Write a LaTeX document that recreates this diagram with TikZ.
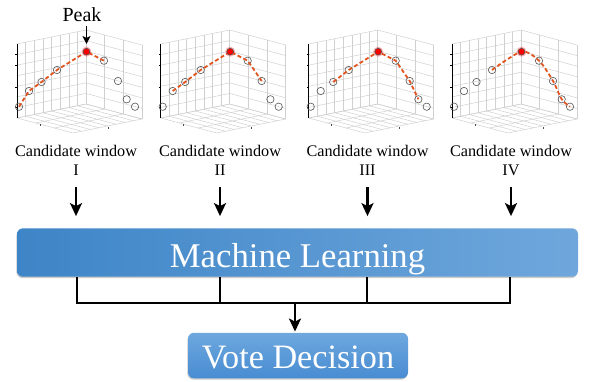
\documentclass[tikz,border=0pt]{standalone}
\usepackage{fontspec}
\setmainfont{Liberation Serif}
\usetikzlibrary{arrows.meta,shadows,calc}

\definecolor{gridc}{RGB}{208,208,208}
\definecolor{dashc}{RGB}{226,84,30}
\definecolor{ptc}{RGB}{85,85,85}
\definecolor{mlL}{RGB}{62,133,199}
\definecolor{mlR}{RGB}{111,167,220}
\definecolor{vtT}{RGB}{110,168,222}
\definecolor{vtB}{RGB}{72,140,210}

\tikzset{
  gridline/.style={gridc, line width=0.5pt},
  datapt/.style={ptc, line width=0.6pt},
  trend/.style={dashc, line width=1.8pt, dash pattern=on 4pt off 2.5pt},
  cwtext/.style={font=\fontsize{16.2}{19}\selectfont, inner sep=0pt, anchor=base},
  bigarrow/.style={line width=2.2pt, -{Stealth[length=13pt,width=12pt,inset=3pt]}},
  peakarrow/.style={line width=1.2pt, -{Stealth[length=8pt,width=8pt,inset=2pt]}},
  joinline/.style={line width=2.4pt},
  softshadow/.style={drop shadow={shadow xshift=-0.6pt, shadow yshift=-1.4pt, fill=black!45, opacity=0.45}},
  mlbox/.style={rounded corners=6pt, left color=mlL, right color=mlR, text=white,
    font=\fontsize{34.7}{40}\selectfont, minimum width=561pt, minimum height=48.4pt,
    inner sep=0pt, text height=29.4pt, text depth=0pt, softshadow},
  votebox/.style={rounded corners=6pt, top color=vtT, bottom color=vtB, text=white,
    font=\fontsize{34.2}{40}\selectfont, minimum width=220pt, minimum height=45.5pt,
    inner sep=0pt, text height=25.6pt, text depth=0pt, softshadow},
}

\newcommand{\plotwin}[2]{%
  \begin{scope}[xshift=#1pt]
    % left wall
    \foreach \i in {0,...,8} \draw[gridline] ({17+\i*69/8},{118-\i*14/8}) -- ++(0,-74);
    \foreach \j in {0,...,7} \draw[gridline] (17,{118-\j*74/7}) -- ++(69,-14);
    % right wall
    \foreach \i in {0,...,3} \draw[gridline] ({86+\i*56/3},{104+\i*15/3}) -- ++(0,-74);
    \foreach \j in {0,...,7} \draw[gridline] (86,{104-\j*74/7}) -- ++(56,15);
    % floor
    \foreach \i in {0,...,3} \draw[gridline] ({17+\i*56/3},{118+\i*15/3}) -- ++(69,-14);
    \foreach \i in {0,...,8} \draw[gridline] ({17+\i*69/8},{118-\i*14/8}) -- ++(56,15);
    % axis
    \draw[black, line width=0.8pt] (17,44) -- (17,118);
    \foreach \t in {54,65,87,107} \draw[black, line width=0.6pt] (17,\t) -- ++(-2.2,0);
    \draw[black!70, line width=0.6pt] (40,124) -- ++(0,2);
    \draw[black!70, line width=0.6pt] (108,127) -- ++(0,2);
    % data points
    \foreach \p in {(19,106.7),(29,91),(41.5,82),(57,70),(104,60.7),(118,81),(126.7,99.3),(135,106.7)}
      \draw[datapt] \p circle[radius=3.7];
    #2
    % peak
    \fill[red, opacity=0.3] (86.5,51.7) circle[radius=5];
    \draw[datapt, fill=red] (86.5,51.7) circle[radius=3.4];
  \end{scope}}

\begin{document}
\begin{tikzpicture}[x=1pt,y=-1pt]
\useasboundingbox (0,0) rectangle (589,381);

\plotwin{0}{\draw[trend] (19,106.7) -- (29,91) -- (41.5,82) -- (57,70) -- (86.5,51.7) -- (104,60.7);}
\plotwin{143.7}{\draw[trend] (29,91) -- (41.5,82) -- (57,70) -- (86.5,51.7) -- (104,60.7) -- (118,81);}
\plotwin{291.7}{\draw[trend] (41.5,82) -- (57,70) -- (86.5,51.7) -- (104,60.7) -- (118,81) -- (126.7,99.3);}
\plotwin{435}{\draw[trend] plot[smooth, tension=0.5] coordinates {(57,70) (86.5,51.7) (104,60.7) (118,81) (126.7,99.3) (135,106.7)};}

% Peak label
\node[font=\fontsize{20}{24}\selectfont, inner sep=0pt, anchor=base] (peak) at (82,21) {Peak};
\coordinate (pk) at (86.5,44);
\draw[peakarrow, shorten <=5pt] (peak.south -| pk) -- (pk);

% Machine learning box
\node[mlbox] (ml) at (297.5,252.5) {Machine Learning};

% candidate windows
\node[cwtext] (cw1) at (76,156) {Candidate window};
\node[cwtext] (n1) at (76,175) {I};
\node[cwtext] (cw2) at (220,156) {Candidate window};
\node[cwtext] (n2) at (220,175) {II};
\node[cwtext] (cw3) at (367.5,156) {Candidate window};
\node[cwtext] (n3) at (367.5,175) {III};
\node[cwtext] (cw4) at (511,156) {Candidate window};
\node[cwtext] (n4) at (511,175) {IV};

\foreach \k in {1,...,4}
  \draw[bigarrow, shorten <=12pt, shorten >=12pt] (n\k.south) -- (n\k.south |- ml.north);

% joining lines
\coordinate (j1) at (77,303);
\coordinate (j2) at (220,303);
\coordinate (j3) at (367,303);
\coordinate (j4) at (510,303);
\coordinate (jm) at (295,303);
\draw[joinline] (j1 |- ml.south) -- (j1) -- (j4) -- (j4 |- ml.south);
\draw[joinline] (j2 |- ml.south) -- (j2);
\draw[joinline] (j3 |- ml.south) -- (j3);

% vote
\node[votebox] (vote) at (298,355.5) {Vote Decision};
\draw[bigarrow, shorten >=1pt] (jm) -- (jm |- vote.north);
\end{tikzpicture}
\end{document}
